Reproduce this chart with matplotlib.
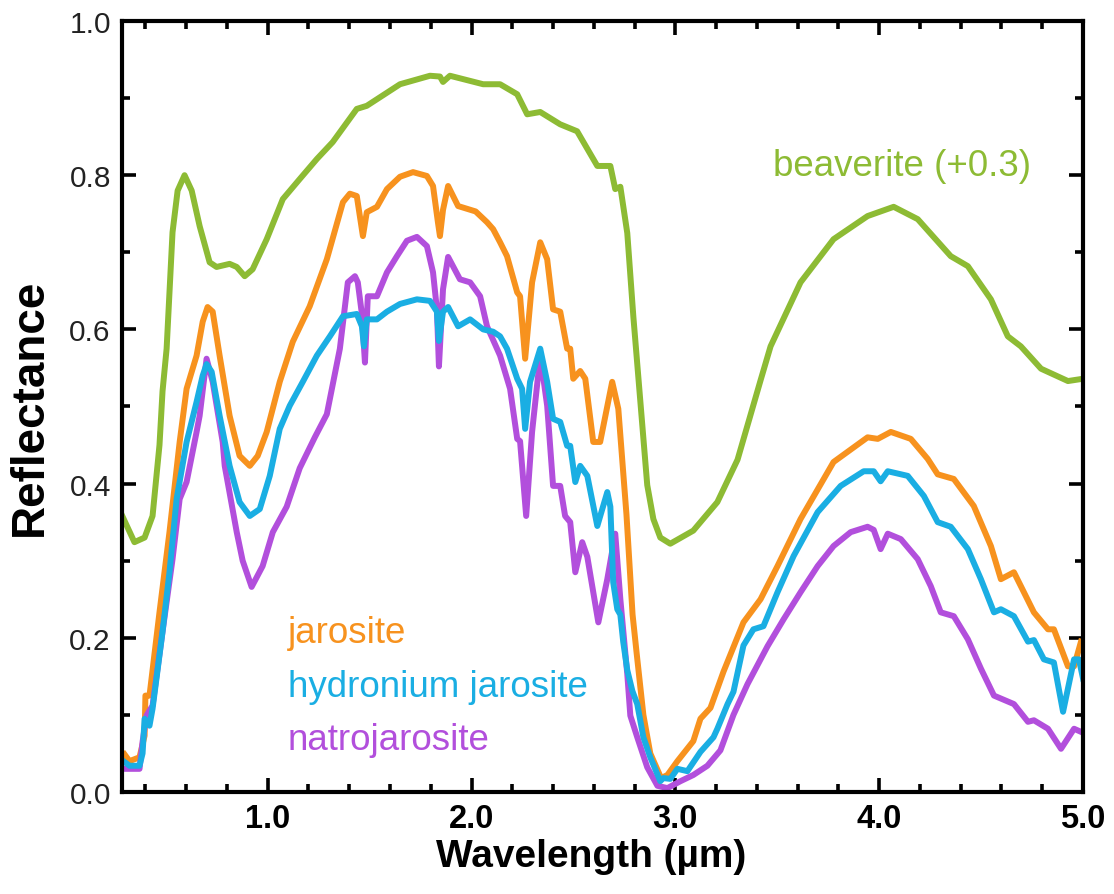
import numpy as np
import matplotlib
matplotlib.use("Agg")
import matplotlib.pyplot as plt
from matplotlib.ticker import MultipleLocator

plt.rcParams['font.family'] = ['Liberation Sans', 'DejaVu Sans']

beav_x = [0.283, 0.346, 0.396, 0.435, 0.469, 0.484, 0.504, 0.533, 0.558, 0.592,
          0.627, 0.666, 0.715, 0.749, 0.813, 0.848, 0.887, 0.926, 0.995, 1.074,
          1.157, 1.241, 1.319, 1.437, 1.486, 1.649, 1.796, 1.845, 1.860, 1.894,
          2.057, 2.140, 2.224, 2.273, 2.337, 2.435, 2.518, 2.617, 2.681, 2.705,
          2.730, 2.764, 2.794, 2.828, 2.862, 2.892, 2.926, 2.975, 3.088, 3.206,
          3.305, 3.418, 3.467, 3.614, 3.776, 3.943, 4.071, 4.189, 4.351, 4.435,
          4.548, 4.631, 4.695, 4.794, 4.926, 5.0]
beav_y = [0.360, 0.324, 0.330, 0.358, 0.450, 0.520, 0.575, 0.726, 0.780, 0.800,
          0.780, 0.734, 0.687, 0.681, 0.685, 0.681, 0.669, 0.678, 0.717, 0.769,
          0.795, 0.821, 0.843, 0.886, 0.890, 0.918, 0.929, 0.928, 0.921, 0.929,
          0.918, 0.918, 0.905, 0.879, 0.882, 0.866, 0.857, 0.812, 0.812, 0.782,
          0.785, 0.725, 0.616, 0.507, 0.398, 0.354, 0.330, 0.322, 0.339, 0.376,
          0.431, 0.534, 0.578, 0.661, 0.717, 0.747, 0.759, 0.743, 0.695, 0.682,
          0.639, 0.591, 0.578, 0.549, 0.533, 0.536]

jar_x = [0.297, 0.322, 0.371, 0.396, 0.400, 0.420, 0.469, 0.518, 0.568, 0.602,
         0.651, 0.681, 0.705, 0.730, 0.764, 0.813, 0.862, 0.912, 0.951, 0.995,
         1.059, 1.123, 1.206, 1.290, 1.369, 1.403, 1.437, 1.452, 1.467, 1.486,
         1.536, 1.585, 1.649, 1.713, 1.781, 1.811, 1.835, 1.845, 1.860, 1.885,
         1.934, 2.020, 2.076, 2.106, 2.140, 2.174, 2.224, 2.238, 2.263, 2.297,
         2.337, 2.371, 2.400, 2.435, 2.469, 2.484, 2.499, 2.533, 2.558, 2.597,
         2.631, 2.690, 2.720, 2.760, 2.790, 2.810, 2.843, 2.877, 2.930, 2.961,
         3.010, 3.088, 3.123, 3.172, 3.236, 3.334, 3.418, 3.501, 3.614, 3.776,
         3.943, 3.993, 4.057, 4.155, 4.238, 4.287, 4.366, 4.464, 4.548, 4.597,
         4.661, 4.695, 4.759, 4.828, 4.857, 4.926, 4.956, 4.990]
jar_y = [0.049, 0.040, 0.045, 0.073, 0.125, 0.125, 0.233, 0.337, 0.454, 0.523,
         0.566, 0.610, 0.629, 0.623, 0.566, 0.488, 0.436, 0.423, 0.436, 0.467,
         0.532, 0.584, 0.630, 0.691, 0.765, 0.776, 0.773, 0.747, 0.721, 0.752,
         0.759, 0.782, 0.798, 0.804, 0.799, 0.786, 0.739, 0.721, 0.755, 0.786,
         0.760, 0.753, 0.739, 0.730, 0.713, 0.695, 0.648, 0.643, 0.562, 0.661,
         0.713, 0.691, 0.626, 0.623, 0.575, 0.575, 0.536, 0.546, 0.536, 0.454,
         0.454, 0.532, 0.497, 0.360, 0.230, 0.180, 0.100, 0.050, 0.018, 0.022,
         0.040, 0.066, 0.095, 0.109, 0.156, 0.220, 0.250, 0.293, 0.354, 0.428,
         0.460, 0.458, 0.467, 0.458, 0.432, 0.412, 0.406, 0.371, 0.319, 0.276,
         0.285, 0.267, 0.233, 0.211, 0.211, 0.163, 0.163, 0.195]

hyd_x = [0.297, 0.322, 0.371, 0.386, 0.396, 0.420, 0.435, 0.484, 0.518, 0.553,
         0.602, 0.651, 0.681, 0.700, 0.725, 0.764, 0.813, 0.862, 0.912, 0.961,
         1.010, 1.059, 1.108, 1.172, 1.241, 1.305, 1.369, 1.437, 1.462, 1.472,
         1.486, 1.536, 1.585, 1.649, 1.732, 1.796, 1.830, 1.840, 1.860, 1.885,
         1.934, 1.993, 2.057, 2.106, 2.140, 2.174, 2.224, 2.248, 2.263, 2.287,
         2.337, 2.371, 2.400, 2.435, 2.469, 2.484, 2.509, 2.533, 2.568, 2.617,
         2.666, 2.681, 2.695, 2.715, 2.730, 2.744, 2.764, 2.789, 2.813, 2.843,
         2.877, 2.926, 2.941, 2.975, 3.010, 3.059, 3.123, 3.187, 3.206, 3.256,
         3.285, 3.334, 3.383, 3.432, 3.501, 3.580, 3.698, 3.811, 3.924, 3.973,
         4.007, 4.042, 4.140, 4.219, 4.287, 4.351, 4.435, 4.499, 4.563, 4.597,
         4.661, 4.730, 4.759, 4.808, 4.857, 4.902, 4.956, 4.980, 5.0]
hyd_y = [0.039, 0.034, 0.034, 0.050, 0.095, 0.086, 0.108, 0.208, 0.285, 0.380,
         0.454, 0.506, 0.540, 0.555, 0.545, 0.488, 0.423, 0.376, 0.358, 0.367,
         0.410, 0.471, 0.501, 0.532, 0.566, 0.591, 0.617, 0.620, 0.604, 0.578,
         0.613, 0.613, 0.623, 0.633, 0.639, 0.637, 0.623, 0.585, 0.623, 0.629,
         0.604, 0.613, 0.600, 0.597, 0.591, 0.575, 0.536, 0.523, 0.471, 0.532,
         0.575, 0.532, 0.484, 0.480, 0.449, 0.449, 0.402, 0.423, 0.410, 0.345,
         0.389, 0.370, 0.272, 0.237, 0.230, 0.195, 0.158, 0.131, 0.114, 0.071,
         0.045, 0.014, 0.018, 0.017, 0.030, 0.027, 0.052, 0.071, 0.082, 0.114,
         0.130, 0.190, 0.211, 0.215, 0.259, 0.306, 0.363, 0.397, 0.416, 0.416,
         0.403, 0.416, 0.410, 0.384, 0.350, 0.344, 0.315, 0.276, 0.233, 0.237,
         0.228, 0.195, 0.197, 0.172, 0.168, 0.104, 0.172, 0.172, 0.147]

nat_x = [0.297, 0.371, 0.386, 0.405, 0.435, 0.484, 0.533, 0.568, 0.602, 0.651,
         0.666, 0.700, 0.730, 0.779, 0.789, 0.848, 0.877, 0.921, 0.975, 1.025,
         1.093, 1.157, 1.231, 1.290, 1.354, 1.393, 1.428, 1.442, 1.462, 1.477,
         1.491, 1.536, 1.585, 1.634, 1.683, 1.732, 1.781, 1.811, 1.830, 1.840,
         1.860, 1.885, 1.909, 1.943, 1.993, 2.042, 2.076, 2.140, 2.189, 2.224,
         2.238, 2.268, 2.297, 2.337, 2.371, 2.400, 2.435, 2.459, 2.484, 2.509,
         2.543, 2.568, 2.622, 2.666, 2.705, 2.730, 2.764, 2.779, 2.813, 2.862,
         2.912, 2.961, 3.025, 3.088, 3.157, 3.221, 3.285, 3.354, 3.452, 3.531,
         3.614, 3.698, 3.776, 3.860, 3.943, 3.973, 4.007, 4.042, 4.106, 4.189,
         4.253, 4.302, 4.366, 4.435, 4.499, 4.563, 4.661, 4.730, 4.759, 4.828,
         4.892, 4.956, 4.990]
nat_y = [0.030, 0.030, 0.065, 0.099, 0.112, 0.208, 0.302, 0.380, 0.402, 0.467,
         0.488, 0.562, 0.532, 0.454, 0.423, 0.337, 0.300, 0.266, 0.293, 0.337,
         0.370, 0.420, 0.460, 0.490, 0.575, 0.661, 0.669, 0.661, 0.620, 0.557,
         0.643, 0.643, 0.674, 0.695, 0.715, 0.720, 0.708, 0.674, 0.626, 0.552,
         0.652, 0.694, 0.682, 0.665, 0.661, 0.643, 0.604, 0.566, 0.523, 0.458,
         0.455, 0.358, 0.467, 0.566, 0.501, 0.397, 0.397, 0.358, 0.350, 0.285,
         0.324, 0.305, 0.220, 0.276, 0.335, 0.250, 0.153, 0.099, 0.071, 0.032,
         0.008, 0.005, 0.014, 0.022, 0.034, 0.054, 0.100, 0.140, 0.189, 0.224,
         0.259, 0.293, 0.319, 0.337, 0.344, 0.340, 0.315, 0.335, 0.328, 0.302,
         0.267, 0.233, 0.228, 0.198, 0.160, 0.125, 0.114, 0.091, 0.093, 0.082,
         0.056, 0.082, 0.078]

c_green = '#8dbb34'
c_orange = '#f7921e'
c_blue = '#1aaee3'
c_purple = '#b24fdc'

fig = plt.figure(figsize=(11.14, 8.95), dpi=100)
ax = fig.add_axes([0.1095, 0.114, 0.8627, 0.8614])

lw = 4.3
ax.plot(beav_x, beav_y, color=c_green, lw=lw, solid_joinstyle='round')
ax.plot(jar_x, jar_y, color=c_orange, lw=lw, solid_joinstyle='round')
ax.plot(nat_x, nat_y, color=c_purple, lw=lw, solid_joinstyle='round')
ax.plot(hyd_x, hyd_y, color=c_blue, lw=lw, solid_joinstyle='round')

ax.set_xlim(0.285, 5.0)
ax.set_ylim(0.0, 1.0)
ax.xaxis.set_major_locator(MultipleLocator(1.0))
ax.xaxis.set_minor_locator(MultipleLocator(0.2))
ax.yaxis.set_major_locator(MultipleLocator(0.2))
ax.yaxis.set_minor_locator(MultipleLocator(0.1))
ax.xaxis.set_major_formatter(plt.FormatStrFormatter('%.1f'))
ax.yaxis.set_major_formatter(plt.FormatStrFormatter('%.1f'))

for s in ax.spines.values():
    s.set_linewidth(3.0)
ax.tick_params(which='both', direction='in', top=True, right=True, width=2.6)
ax.tick_params(which='major', length=10)
ax.tick_params(which='minor', length=6)
ax.tick_params(axis='y', labelsize=21.5, pad=8, labelcolor='#222222')
ax.tick_params(axis='x', labelsize=23.5, pad=8)
for lab in ax.get_xticklabels():
    lab.set_fontweight('bold')

ax.set_xlabel('Wavelength (µm)', fontsize=28, fontweight='bold')
ax.xaxis.set_label_coords(0.488, -0.060)
ax.set_ylabel('Reflectance', fontsize=33, fontweight='bold')
ax.yaxis.set_label_coords(-0.073, 0.5)

fs = 26.5
ax.text(3.48, 0.80, 'beaverite (+0.3)', color=c_green, fontsize=fs, va='baseline')
ax.text(1.10, 0.194, 'jarosite', color=c_orange, fontsize=fs, va='baseline')
ax.text(1.10, 0.124, 'hydronium jarosite', color=c_blue, fontsize=fs, va='baseline')
ax.text(1.10, 0.056, 'natrojarosite', color=c_purple, fontsize=fs, va='baseline')

fig.savefig('out.png', dpi=100, facecolor='white')
